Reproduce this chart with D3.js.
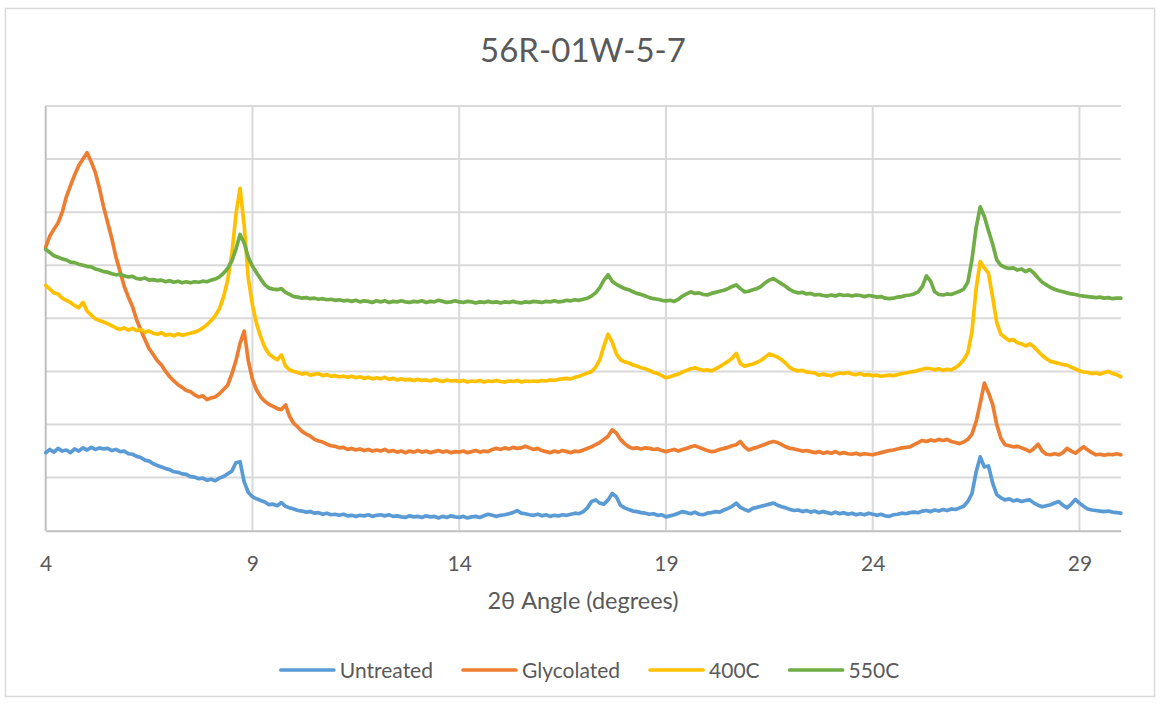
<!DOCTYPE html>
<html>
<head>
<meta charset="utf-8">
<script src="https://cdn.jsdelivr.net/npm/d3@7"></script>
<style>
  body { margin: 0; background: #ffffff; }
  text { font-family: Lato, "Open Sans", sans-serif; fill: #595959; }
</style>
</head>
<body>
<svg id="chart" width="1160" height="705"></svg>
<script>
// XRD scans of sample 56R-01W-5-7, intensity sampled every 0.1 degree 2θ from 4 to 30
const angleStart = 4;
const angleStep = 0.1;
const xTickValues = [4, 9, 14, 19, 24, 29];
const yGridValues = [0, 1, 2, 3, 4, 5, 6, 7, 8];
const seriesNames = ["Untreated", "Glycolated", "400C", "550C"];

const untreated = [
  1.47,1.53,1.48,1.55,1.50,1.52,1.47,1.54,1.50,1.56,
  1.52,1.57,1.53,1.56,1.54,1.55,1.51,1.53,1.49,1.50,
  1.45,1.44,1.40,1.38,1.33,1.31,1.26,1.23,1.20,1.17,
  1.15,1.11,1.10,1.07,1.06,1.02,1.01,0.98,0.99,0.95,
  0.97,0.94,0.99,1.02,1.07,1.12,1.28,1.30,0.92,0.72,
  0.64,0.60,0.57,0.54,0.49,0.50,0.47,0.53,0.46,0.43,
  0.41,0.38,0.37,0.35,0.36,0.33,0.34,0.31,0.33,0.30,
  0.31,0.29,0.31,0.28,0.29,0.27,0.29,0.28,0.30,0.27,
  0.29,0.30,0.28,0.30,0.27,0.28,0.26,0.25,0.28,0.26,
  0.27,0.25,0.28,0.26,0.27,0.24,0.27,0.25,0.28,0.26,
  0.25,0.27,0.24,0.26,0.27,0.25,0.28,0.31,0.29,0.27,
  0.29,0.30,0.32,0.34,0.38,0.33,0.32,0.30,0.29,0.31,
  0.28,0.30,0.27,0.29,0.28,0.30,0.29,0.31,0.33,0.32,
  0.36,0.43,0.55,0.58,0.52,0.50,0.58,0.70,0.64,0.48,
  0.43,0.40,0.37,0.36,0.34,0.33,0.31,0.32,0.29,0.30,
  0.26,0.28,0.30,0.33,0.36,0.34,0.32,0.35,0.31,0.30,
  0.33,0.34,0.36,0.35,0.39,0.42,0.46,0.52,0.44,0.40,
  0.37,0.42,0.44,0.46,0.48,0.50,0.52,0.48,0.45,0.43,
  0.40,0.38,0.39,0.36,0.38,0.35,0.37,0.34,0.36,0.34,
  0.32,0.35,0.32,0.34,0.31,0.33,0.30,0.32,0.30,0.33,
  0.31,0.29,0.31,0.28,0.27,0.30,0.31,0.33,0.32,0.34,
  0.35,0.34,0.37,0.38,0.36,0.39,0.37,0.40,0.38,0.41,
  0.40,0.43,0.46,0.55,0.70,1.10,1.39,1.20,1.22,0.90,
  0.68,0.62,0.58,0.60,0.56,0.58,0.55,0.57,0.58,0.52,
  0.48,0.45,0.47,0.49,0.52,0.55,0.48,0.43,0.50,0.59,
  0.52,0.46,0.41,0.39,0.38,0.37,0.36,0.37,0.35,0.34,
  0.33
];

const glycolated = [
  5.34,5.55,5.68,5.80,6.00,6.29,6.50,6.70,6.88,7.00,
  7.12,6.95,6.75,6.45,6.10,5.80,5.50,5.15,4.88,4.60,
  4.40,4.22,3.97,3.78,3.60,3.43,3.32,3.20,3.12,3.00,
  2.90,2.82,2.75,2.70,2.64,2.62,2.56,2.52,2.54,2.47,
  2.50,2.52,2.58,2.66,2.74,2.95,3.20,3.53,3.76,3.20,
  2.85,2.65,2.52,2.44,2.38,2.34,2.30,2.28,2.37,2.15,
  2.02,1.95,1.87,1.82,1.78,1.72,1.69,1.67,1.63,1.60,
  1.59,1.56,1.57,1.53,1.55,1.52,1.54,1.51,1.53,1.50,
  1.52,1.50,1.53,1.49,1.51,1.48,1.50,1.47,1.50,1.48,
  1.51,1.48,1.50,1.47,1.49,1.51,1.48,1.50,1.47,1.49,
  1.48,1.50,1.47,1.49,1.51,1.48,1.50,1.49,1.53,1.55,
  1.53,1.56,1.54,1.57,1.55,1.56,1.59,1.56,1.53,1.55,
  1.51,1.49,1.47,1.50,1.48,1.51,1.49,1.47,1.50,1.49,
  1.52,1.55,1.58,1.62,1.66,1.72,1.78,1.90,1.84,1.72,
  1.64,1.58,1.55,1.56,1.54,1.56,1.55,1.53,1.54,1.51,
  1.49,1.51,1.53,1.50,1.53,1.55,1.58,1.60,1.57,1.54,
  1.51,1.49,1.50,1.53,1.55,1.57,1.60,1.62,1.68,1.58,
  1.52,1.55,1.57,1.60,1.63,1.66,1.68,1.66,1.62,1.58,
  1.55,1.54,1.52,1.50,1.51,1.49,1.47,1.49,1.46,1.48,
  1.46,1.49,1.45,1.47,1.45,1.44,1.46,1.43,1.45,1.44,
  1.43,1.45,1.47,1.49,1.51,1.52,1.54,1.56,1.57,1.58,
  1.62,1.66,1.70,1.68,1.71,1.69,1.72,1.70,1.72,1.68,
  1.66,1.64,1.67,1.72,1.82,2.05,2.40,2.78,2.60,2.38,
  2.00,1.74,1.62,1.60,1.58,1.59,1.56,1.53,1.49,1.55,
  1.63,1.50,1.44,1.43,1.45,1.43,1.47,1.55,1.50,1.46,
  1.52,1.58,1.52,1.47,1.43,1.44,1.42,1.44,1.43,1.45,
  1.43
];

const heated400 = [
  4.62,4.55,4.48,4.46,4.38,4.34,4.30,4.24,4.20,4.30,
  4.14,4.06,3.99,3.96,3.93,3.90,3.86,3.82,3.79,3.82,
  3.78,3.81,3.77,3.79,3.74,3.76,3.72,3.70,3.73,3.68,
  3.70,3.67,3.71,3.68,3.70,3.72,3.74,3.77,3.82,3.88,
  3.96,4.05,4.18,4.40,4.72,5.20,5.95,6.45,5.75,4.75,
  4.25,3.90,3.65,3.45,3.33,3.27,3.22,3.31,3.10,3.03,
  3.00,2.98,2.95,2.97,2.93,2.95,2.96,2.92,2.94,2.91,
  2.92,2.90,2.91,2.89,2.91,2.88,2.90,2.87,2.89,2.86,
  2.88,2.86,2.89,2.85,2.87,2.84,2.86,2.84,2.85,2.83,
  2.85,2.83,2.84,2.82,2.85,2.83,2.81,2.84,2.82,2.83,
  2.81,2.83,2.80,2.82,2.81,2.83,2.80,2.82,2.81,2.83,
  2.81,2.80,2.82,2.81,2.83,2.80,2.82,2.81,2.82,2.81,
  2.83,2.82,2.84,2.83,2.85,2.86,2.87,2.86,2.89,2.91,
  2.94,2.97,3.00,3.08,3.22,3.48,3.70,3.55,3.33,3.22,
  3.18,3.16,3.12,3.10,3.07,3.05,3.02,2.98,2.96,2.92,
  2.88,2.90,2.93,2.95,2.99,3.02,3.05,3.07,3.04,3.02,
  3.03,3.01,3.05,3.09,3.14,3.19,3.25,3.34,3.15,3.10,
  3.12,3.14,3.17,3.21,3.27,3.33,3.30,3.27,3.22,3.15,
  3.07,3.03,3.01,3.02,2.99,2.98,2.97,2.93,2.95,2.93,
  2.92,2.95,2.97,2.96,2.98,2.95,2.94,2.96,2.93,2.94,
  2.92,2.93,2.91,2.92,2.93,2.92,2.94,2.96,2.97,2.99,
  3.00,3.02,3.04,3.06,3.05,3.03,3.05,3.02,3.04,3.03,
  3.07,3.13,3.22,3.35,3.75,4.55,5.07,4.95,4.85,4.40,
  3.92,3.70,3.64,3.58,3.60,3.54,3.52,3.48,3.52,3.46,
  3.38,3.30,3.24,3.19,3.17,3.15,3.13,3.12,3.08,3.05,
  3.01,2.99,2.98,2.96,2.97,2.95,2.98,3.00,2.96,2.94,
  2.90
];

const heated550 = [
  5.30,5.24,5.18,5.15,5.12,5.10,5.06,5.05,5.02,5.00,
  4.98,4.97,4.93,4.91,4.88,4.87,4.84,4.82,4.83,4.80,
  4.78,4.79,4.75,4.74,4.76,4.72,4.73,4.71,4.72,4.69,
  4.71,4.68,4.70,4.67,4.69,4.67,4.69,4.68,4.70,4.69,
  4.72,4.74,4.78,4.85,4.94,5.08,5.30,5.58,5.42,5.15,
  4.98,4.86,4.74,4.63,4.57,4.55,4.54,4.56,4.49,4.45,
  4.41,4.40,4.38,4.39,4.37,4.38,4.36,4.37,4.35,4.36,
  4.34,4.35,4.33,4.34,4.32,4.34,4.31,4.33,4.32,4.30,
  4.33,4.31,4.33,4.30,4.32,4.31,4.33,4.31,4.30,4.32,
  4.31,4.33,4.30,4.32,4.31,4.34,4.32,4.30,4.31,4.33,
  4.31,4.30,4.32,4.31,4.29,4.31,4.30,4.32,4.30,4.31,
  4.29,4.31,4.30,4.32,4.30,4.29,4.31,4.30,4.32,4.31,
  4.30,4.32,4.31,4.33,4.31,4.32,4.34,4.33,4.35,4.34,
  4.36,4.38,4.42,4.48,4.58,4.72,4.82,4.70,4.64,4.60,
  4.56,4.54,4.50,4.47,4.45,4.42,4.39,4.37,4.36,4.34,
  4.33,4.34,4.32,4.36,4.42,4.46,4.50,4.47,4.48,4.45,
  4.44,4.47,4.49,4.51,4.53,4.56,4.60,4.63,4.56,4.50,
  4.51,4.54,4.56,4.60,4.67,4.72,4.75,4.70,4.65,4.60,
  4.54,4.50,4.48,4.49,4.46,4.47,4.44,4.45,4.43,4.42,
  4.44,4.42,4.45,4.43,4.44,4.42,4.44,4.43,4.41,4.43,
  4.42,4.40,4.41,4.38,4.37,4.38,4.40,4.41,4.43,4.44,
  4.46,4.50,4.60,4.80,4.70,4.50,4.45,4.44,4.46,4.45,
  4.48,4.51,4.55,4.68,5.10,5.70,6.10,5.92,5.65,5.40,
  5.10,5.00,4.96,4.94,4.95,4.91,4.93,4.88,4.92,4.85,
  4.76,4.68,4.63,4.58,4.55,4.52,4.50,4.48,4.46,4.45,
  4.43,4.42,4.41,4.40,4.39,4.40,4.38,4.39,4.37,4.38,
  4.38
];

const seriesValues = [untreated, glycolated, heated400, heated550];
const seriesColors = ["#5B9BD5", "#ED7D31", "#FFC000", "#70AD47"];

const svg = d3.select("#chart");
const W = 1160, H = 705;
const plot = { left: 45.7, right: 1120.8, top: 106, bottom: 530.7 };

// chart frame
svg.append("rect")
  .attr("x", 5.5).attr("y", 8.5)
  .attr("width", W - 11).attr("height", H - 17)
  .attr("fill", "#ffffff")
  .attr("stroke", "#d9d9d9").attr("stroke-width", 1.5);

const x = d3.scaleLinear().domain([4, 30]).range([plot.left, plot.right]);
const y = d3.scaleLinear().domain([0, 8]).range([plot.bottom, plot.top]);

// horizontal gridlines
svg.append("g").selectAll("line")
  .data(yGridValues.filter(v => v > 0))
  .join("line")
  .attr("x1", plot.left).attr("x2", plot.right)
  .attr("y1", d => y(d)).attr("y2", d => y(d))
  .attr("stroke", "#d9d9d9").attr("stroke-width", 2);

// vertical gridlines
svg.append("g").selectAll("line")
  .data(xTickValues.filter(v => v > 4))
  .join("line")
  .attr("x1", d => x(d)).attr("x2", d => x(d))
  .attr("y1", plot.top).attr("y2", plot.bottom)
  .attr("stroke", "#d9d9d9").attr("stroke-width", 2);

// left axis line
svg.append("line")
  .attr("x1", plot.left).attr("x2", plot.left)
  .attr("y1", plot.top).attr("y2", plot.bottom)
  .attr("stroke", "#bfbfbf").attr("stroke-width", 2);

// bottom axis
const xAxis = svg.append("g")
  .attr("transform", `translate(0,${plot.bottom})`)
  .call(d3.axisBottom(x).tickValues(xTickValues).tickSize(0).tickPadding(25).tickFormat(d3.format("d")));
xAxis.select(".domain").attr("stroke", "#bfbfbf").attr("stroke-width", 2);
xAxis.selectAll("text")
  .style("font-family", "Lato, 'Open Sans', sans-serif")
  .style("font-size", "21px")
  .attr("fill", "#595959");

// series lines
const line = d3.line()
  .x((d, i) => x(angleStart + i * angleStep))
  .y(d => y(d));

svg.append("g").selectAll("path")
  .data(seriesValues)
  .join("path")
  .attr("d", d => line(d))
  .attr("fill", "none")
  .attr("stroke", (d, i) => seriesColors[i])
  .attr("stroke-width", 3.7)
  .attr("stroke-linejoin", "round")
  .attr("stroke-linecap", "round");

// title
svg.append("text")
  .attr("x", 583).attr("y", 62)
  .attr("text-anchor", "middle")
  .style("font-size", "33px")
  .text("56R-01W-5-7");

// x axis title
svg.append("text")
  .attr("x", 583).attr("y", 609)
  .attr("text-anchor", "middle")
  .style("font-size", "23.5px")
  .text("2θ Angle (degrees)");

// legend
const legend = svg.append("g");
const swatchLen = 53, swatchGap = 6, itemGap = 30, legendY = 670;
const items = legend.selectAll("g")
  .data(seriesNames)
  .join("g");
items.append("line")
  .attr("x1", 0).attr("x2", swatchLen)
  .attr("y1", 0).attr("y2", 0)
  .attr("stroke", (d, i) => seriesColors[i])
  .attr("stroke-width", 3.7)
  .attr("stroke-linecap", "round");
items.append("text")
  .attr("x", swatchLen + swatchGap)
  .attr("y", 7.5)
  .style("font-size", "21px")
  .text(d => d);

let offset = 0;
const widths = [];
items.each(function () {
  const w = swatchLen + swatchGap + d3.select(this).select("text").node().getComputedTextLength();
  widths.push(w);
});
const total = d3.sum(widths) + itemGap * (widths.length - 1);
let start = 590 - total / 2;
items.attr("transform", (d, i) => {
  const tx = start + offset;
  offset += widths[i] + itemGap;
  return `translate(${tx},${legendY})`;
});
</script>
</body>
</html>
